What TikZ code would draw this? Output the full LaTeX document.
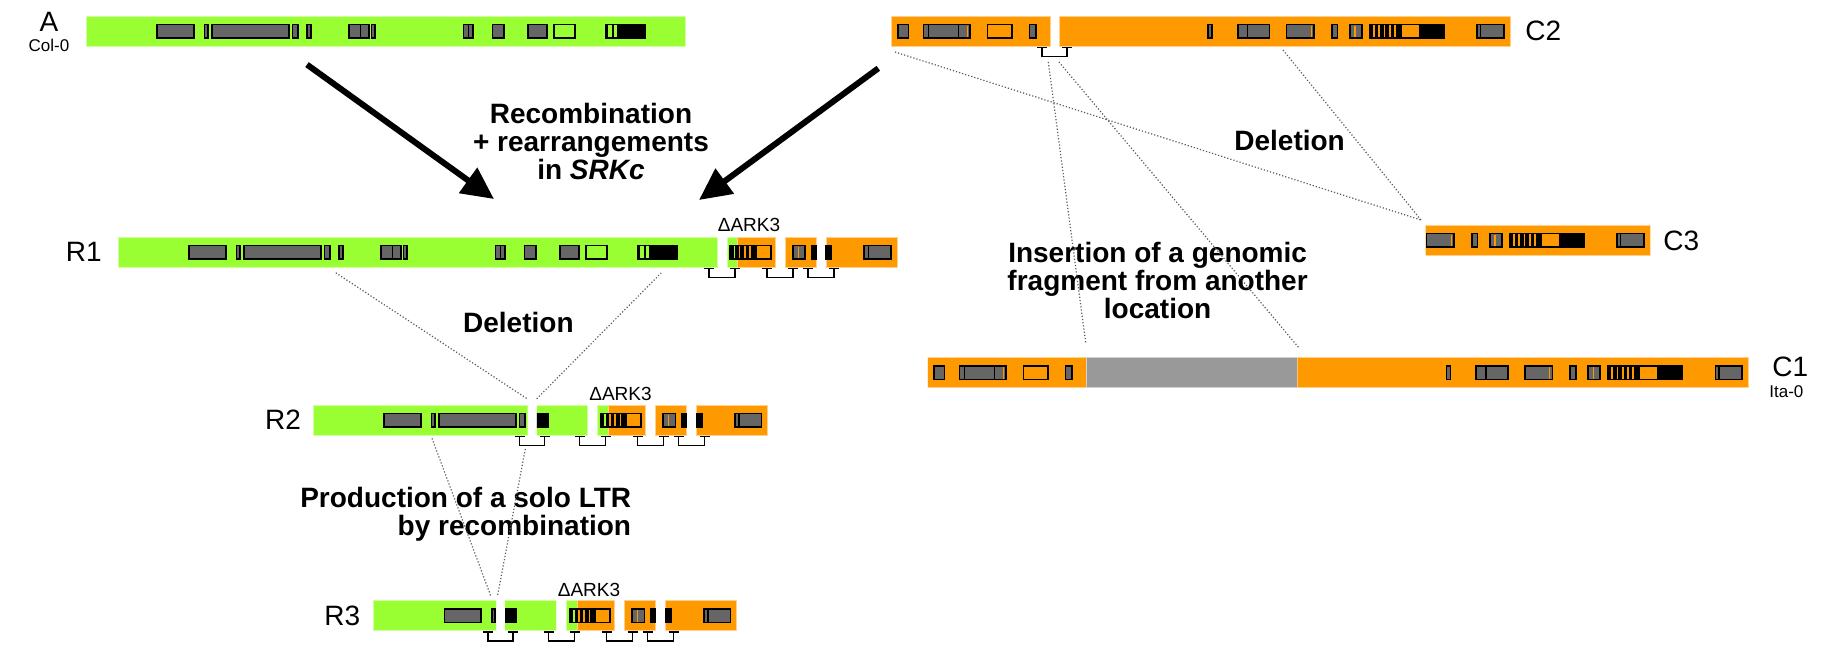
\documentclass[tikz,border=0pt]{standalone}
\usepackage{fontspec}
\setmainfont{Liberation Sans}
\usetikzlibrary{arrows.meta}
\definecolor{bar_green}{RGB}{153,255,51}
\definecolor{bar_orange}{RGB}{255,153,0}
\definecolor{block_gray}{RGB}{102,102,102}
\definecolor{insert_gray}{RGB}{153,153,153}
\definecolor{trace_gray}{RGB}{90,90,90}

% blocks on a bar (bar runs from y=0 to y=30)
\newcommand{\gbox}[2]{\draw[gblock] (#1,8.5) rectangle (#2,22);}
\newcommand{\obox}[2]{\draw[oblock] (#1,8.5) rectangle (#2,22);}
\newcommand{\kbox}[2]{\draw[kblock] (#1,8.5) rectangle (#2,22);}
\newcommand{\divl}[1]{\draw[divline] (#1,8.5) -- (#1,22);}
\newcommand{\oline}[1]{\draw[oline] (#1,9.5) -- (#1,21);}
\newcommand{\stripes}[4]{%
    \pgfmathsetmacro{\sw}{(#2-#1)/(#3+1)}
    \foreach \k in {1,...,#3} {\fill[black] ({#1+(\k-1)*\sw},8.5) rectangle ({#1+\k*\sw-#4},22);}
    \fill[black] ({#1+#3*\sw},8.5) rectangle (#2,22);
    \draw[kline] (#1,8.5) rectangle (#2,22);}
\newcommand{\gapmark}[2]{%
    \draw[gapline] ({#1-#2-5},31.5) -- ({#1-#2+5},31.5) ({#1-#2},31.5) -- ({#1-#2},40.5)
        -- ({#1+#2},40.5) -- ({#1+#2},31.5) ({#1+#2-5},31.5) -- ({#1+#2+5},31.5);}

% Col-0 haplotype
\newcommand{\colzero}{%
    \draw[greenbar] (86,0) rectangle (685,30);
    \gbox{157.1}{193.8} \gbox{204.5}{208} \gbox{211.6}{289.3} \gbox{292.4}{298.2} \gbox{307.1}{310.7}
    \gbox{349.1}{368.8} \divl{360.7} \gbox{371.4}{375}
    \gbox{463.4}{473.2} \divl{468.3}
    \gbox{492.4}{503.6} \gbox{527.7}{546.9} \obox{553.6}{574.6}
    \kbox{623}{645} \stripes{605.8}{623}{2}{3.5}}

% Ita-0 type haplotype (as in C2)
\newcommand{\colita}{%
    \draw[orangebar] (891.9,0) rectangle (1050,30);
    \draw[orangebar] (1059,0) rectangle (1510,30);
    \gbox{897.8}{908.5}
    \gbox{923.5}{970.2} \divl{928.5} \divl{958.5} \oline{967.5}
    \obox{987.5}{1011.7} \gbox{1029.5}{1036.2}
    \gbox{1208.2}{1212.2}
    \gbox{1237.9}{1269.5} \divl{1247.7}
    \gbox{1286.5}{1314.2} \oline{1311.5}
    \gbox{1332}{1337.5}
    \gbox{1349.7}{1361.6} \oline{1355}
    \stripes{1369.5}{1401}{5}{1.7} \obox{1401}{1420} \kbox{1420}{1443.7}
    \gbox{1477.1}{1504} \divl{1480.5}}

% right end of the recombinants
\newcommand{\recright}{%
    \draw[greenbar] (727,0) rectangle (737.7,30);
    \draw[orangebar] (737.7,0) rectangle (775,30);
    \draw[orangebar] (785,0) rectangle (816,30);
    \draw[orangebar] (826,0) rectangle (897,30);
    \stripes{730}{756}{4}{1.7} \obox{756}{770.7}
    \gbox{792.7}{805} \oline{798.3}
    \kbox{811.5}{816} \kbox{826}{831.5}
    \gbox{864.3}{891} \divl{868.3}
    \gapmark{722}{13} \gapmark{780}{13} \gapmark{821}{13}}

\begin{document}
\begin{tikzpicture}[x=0.5pt, y=-0.5pt]
    \tikzstyle{greenbar}=[fill=bar_green, draw=bar_green!45!white, line width=0.5pt]
    \tikzstyle{orangebar}=[fill=bar_orange, draw=bar_orange!45!white, line width=0.5pt]
    \tikzstyle{gblock}=[draw=black, fill=block_gray, line width=0.9pt]
    \tikzstyle{oblock}=[draw=black, line width=0.9pt]
    \tikzstyle{kblock}=[draw=black, fill=black, line width=0.9pt]
    \tikzstyle{kline}=[draw=black, line width=0.9pt]
    \tikzstyle{divline}=[black, line width=0.7pt]
    \tikzstyle{oline}=[bar_orange, line width=0.6pt]
    \tikzstyle{gapline}=[black, line width=0.75pt]
    \tikzstyle{trace}=[trace_gray, line width=0.6pt, densely dotted]
    \tikzstyle{bigarrow}=[-{Triangle[length=16pt,width=15pt]}, line width=3pt]
    \tikzstyle{rowname}=[font=\fontsize{14}{14}\selectfont, inner sep=0pt]
    \tikzstyle{strain}=[font=\fontsize{8.5}{9}\selectfont, inner sep=0pt]
    \tikzstyle{gene}=[font=\fontsize{9.5}{10}\selectfont, inner sep=0pt]
    \tikzstyle{event}=[font=\bfseries\fontsize{14}{14}\selectfont, inner sep=0pt]

    \useasboundingbox (0,0) rectangle (1827,644);

    % A and C2
    \begin{scope}[shift={(0,16)}] \colzero \end{scope}
    \begin{scope}[shift={(0,16)}] \colita \gapmark{1054.5}{12.5} \end{scope}

    % R1
    \begin{scope}[shift={(32,237)}] \colzero \end{scope}
    \begin{scope}[shift={(0,237)}] \recright \end{scope}

    % R2
    \begin{scope}[shift={(0,405)}]
        \begin{scope}
            \clip (312.8,-1) rectangle (527.5,31);
            \begin{scope}[shift={(227,0)}] \colzero \end{scope}
        \end{scope}
        \begin{scope}
            \clip (536.8,-1) rectangle (588,31);
            \begin{scope}[shift={(-97.2,0)}] \colzero \end{scope}
        \end{scope}
        \begin{scope}[shift={(-129.5,0)}] \recright \end{scope}
        \gapmark{532.2}{12.5}
    \end{scope}

    % R3
    \begin{scope}[shift={(0,600.5)}]
        \begin{scope}
            \clip (373,-1) rectangle (496.1,31);
            \begin{scope}[shift={(287.3,0)}] \colzero \end{scope}
        \end{scope}
        \begin{scope}
            \clip (505.2,-1) rectangle (556.4,31);
            \begin{scope}[shift={(-128.8,0)}] \colzero \end{scope}
        \end{scope}
        \begin{scope}[shift={(-160.5,0)}] \recright \end{scope}
        \gapmark{500.6}{12.5}
    \end{scope}

    % C3
    \begin{scope}[shift={(0,225)}]
        \clip (1425.7,-1) rectangle (1650.5,31);
        \begin{scope}[shift={(140,0)}] \colita \end{scope}
    \end{scope}

    % C1
    \begin{scope}[shift={(0,357.5)}]
        \begin{scope}
            \clip (927.5,-1) rectangle (1086,31);
            \begin{scope}[shift={(36,0)}] \colita \end{scope}
        \end{scope}
        \draw[fill=insert_gray, draw=insert_gray!45!white, line width=0.5pt] (1086,0) rectangle (1297.3,30);
        \begin{scope}
            \clip (1297.3,-1) rectangle (1749.5,31);
            \begin{scope}[shift={(238.3,0)}] \colita \end{scope}
        \end{scope}
    \end{scope}

    \node[rowname] (nameA) at (49,22) {A};
    \node[strain] (colname) at (49,45) {Col-0};
    \node[rowname, anchor=west] (nameC2) at (1525,31) {C2};
    \node[rowname, anchor=east] (nameR1) at (102,252) {R1};
    \node[gene] (ark1) at (749,224.5) {ΔARK3};
    \node[rowname, anchor=west] (nameC3) at (1663,240.5) {C3};
    \node[rowname, anchor=west] (nameC1) at (1772,366.5) {C1};
    \node[strain, anchor=west] (itaname) at (1769,391.5) {Ita-0};
    \node[rowname, anchor=east] (nameR2) at (301.4,420) {R2};
    \node[gene] (ark2) at (620.5,393.5) {ΔARK3};
    \node[rowname, anchor=east] (nameR3) at (360.5,616) {R3};
    \node[gene] (ark3) at (589,590) {ΔARK3};

    \node[event, align=center] (recomb) at (591,141) {Recombination\\+ rearrangements\\in \textit{SRKc}};
    \node[event] (delR) at (518.4,322.5) {Deletion};
    \node[event] (delC) at (1289.6,140) {Deletion};
    \node[event, align=center] (insert) at (1157.6,280) {Insertion of a genomic\\fragment from another\\location};
    \node[event, align=right, anchor=east] (solo) at (631.5,514.4) {Production of a solo LTR\\by recombination};

    \coordinate (c2start) at (895,52);
    \coordinate (c2cut) at (1283,50);
    \coordinate (c3start) at (1421,220);
    \coordinate (c2gapL) at (1048.3,62);
    \coordinate (c2gapR) at (1059,62);
    \coordinate (c1insL) at (1085.8,343.3);
    \coordinate (c1insR) at (1299.3,348.3);
    \coordinate (r1cutL) at (335.8,272.8);
    \coordinate (r1cutR) at (661.3,272.8);
    \coordinate (r2gapL) at (527.5,399);
    \coordinate (r2gapR) at (536.5,399);
    \coordinate (r2cutL) at (432,438.4);
    \coordinate (r2cutR) at (525.3,449);
    \coordinate (r3gapL) at (490.8,596);
    \coordinate (r3gapR) at (497.5,596);
    \coordinate (fromA) at (307,64.6);
    \coordinate (toA) at (494,199);
    \coordinate (fromC) at (878.3,68.3);
    \coordinate (toC) at (699,200);

    \path
     (fromA) edge[bigarrow] (toA)
     (fromC) edge[bigarrow] (toC)
     (c2start) edge[trace] (c3start)
     (c2cut) edge[trace] (c3start)
     (c2gapL) edge[trace] (c1insL)
     (c2gapR) edge[trace] (c1insR)
     (r1cutL) edge[trace] (r2gapL)
     (r1cutR) edge[trace] (r2gapR)
     (r2cutL) edge[trace] (r3gapL)
     (r2cutR) edge[trace] (r3gapR)
     ;
\end{tikzpicture}
\end{document}
